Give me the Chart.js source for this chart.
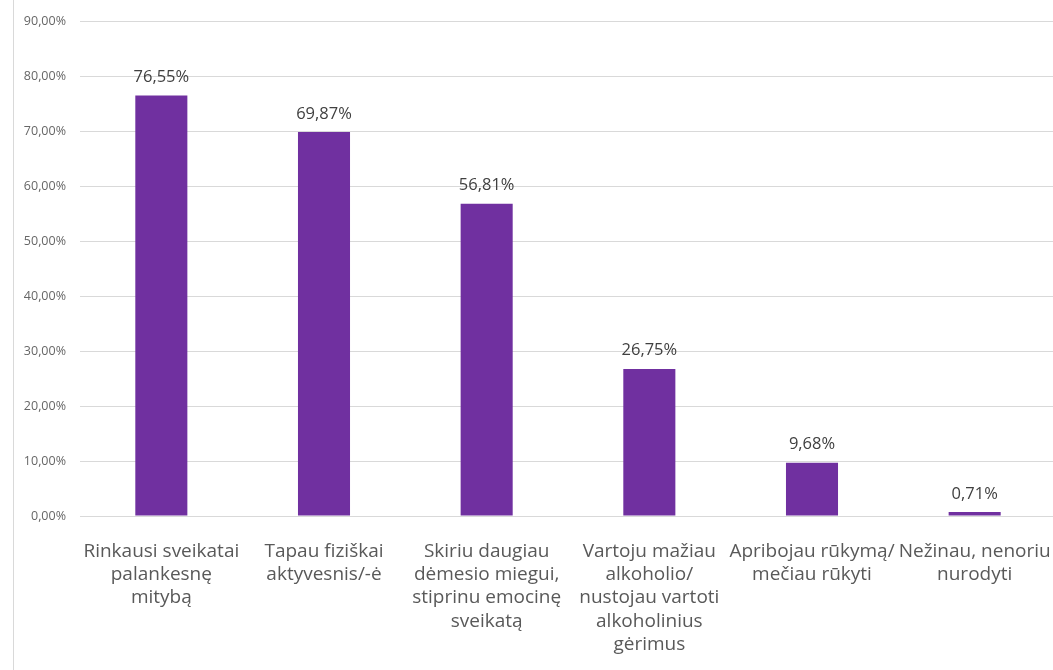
<!DOCTYPE html>
<html>
<head>
<meta charset="utf-8">
<script src="https://cdn.jsdelivr.net/npm/chart.js@4/dist/chart.umd.min.js"></script>
<style>
  html, body { margin: 0; padding: 0; background: #fff; overflow: hidden; }
  #wrap { position: relative; width: 1056px; height: 670px; }
</style>
</head>
<body>
<div id="wrap"><canvas id="c"></canvas></div>
<script>
const categories = [
  ["Rinkausi sveikatai", "palankesnę", "mitybą"],
  ["Tapau fiziškai", "aktyvesnis/-ė"],
  ["Skiriu daugiau", "dėmesio miegui,", "stiprinu emocinę", "sveikatą"],
  ["Vartoju mažiau", "alkoholio/", "nustojau vartoti", "alkoholinius", "gėrimus"],
  ["Apribojau rūkymą/", "mečiau rūkyti"],
  ["Nežinau, nenoriu", "nurodyti"]
];
const values = [76.55, 69.87, 56.81, 26.75, 9.68, 0.71];
const yMax = 90;
const yStep = 10;

const fmt = v => v.toFixed(2).replace('.', ',') + '%';

const valueLabels = {
  id: 'valueLabels',
  afterDatasetsDraw(chart) {
    const ctx = chart.ctx;
    const meta = chart.getDatasetMeta(0);
    ctx.save();
    ctx.font = '16.5px "Open Sans", sans-serif';
    ctx.fillStyle = '#404040';
    ctx.textAlign = 'center';
    ctx.textBaseline = 'bottom';
    meta.data.forEach((bar, i) => {
      ctx.fillText(fmt(values[i]), bar.x, bar.y - 10);
    });
    ctx.restore();
  }
};

const leftBorder = {
  id: 'leftBorder',
  afterDraw(chart) {
    const ctx = chart.ctx;
    ctx.save();
    ctx.strokeStyle = '#d9d9d9';
    ctx.lineWidth = 1;
    ctx.beginPath();
    ctx.moveTo(13.5, 0);
    ctx.lineTo(13.5, chart.height);
    ctx.stroke();
    ctx.restore();
  }
};

new Chart(document.getElementById('c'), {
  type: 'bar',
  data: {
    labels: categories,
    datasets: [{
      data: values,
      backgroundColor: '#7030a0',
      barPercentage: 0.32,
      categoryPercentage: 1.0
    }]
  },
  options: {
    responsive: true,
    maintainAspectRatio: false,
    animation: false,
    layout: { padding: { top: 20, right: 0, left: 0, bottom: 0 } },
    plugins: { legend: { display: false }, tooltip: { enabled: false } },
    scales: {
      x: {
        grid: { display: false, drawTicks: false },
        border: { display: false },
        ticks: {
          color: '#595959',
          font: { family: '"Open Sans", sans-serif', size: 19, lineHeight: 1.22 },
          padding: 24,
          maxRotation: 0,
          autoSkip: false
        },
        afterFit(scale) {
          scale.height = 154;
          scale.paddingLeft = 0;
          scale.paddingRight = 0;
        }
      },
      y: {
        min: 0,
        max: yMax,
        grid: { color: '#d9d9d9', drawTicks: false, lineWidth: 1 },
        border: { display: false },
        ticks: {
          stepSize: yStep,
          color: '#666666',
          font: { family: '"Open Sans", sans-serif', size: 12.5 },
          padding: 14,
          callback: v => fmt(v)
        },
        afterFit(scale) { scale.width = 80; }
      }
    }
  },
  plugins: [valueLabels, leftBorder]
});
</script>
</body>
</html>
